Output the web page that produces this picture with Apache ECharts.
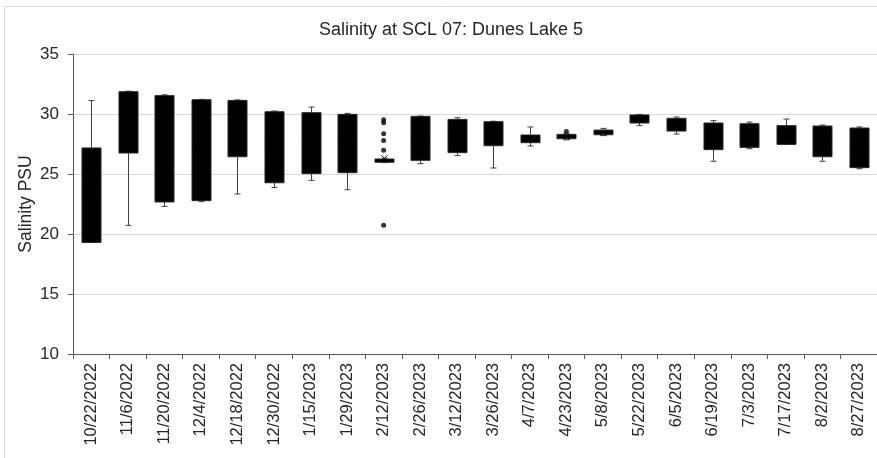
<!DOCTYPE html>
<html>
<head>
<meta charset="utf-8">
<script src="https://cdn.jsdelivr.net/npm/echarts@6/dist/echarts.min.js"></script>
<style>html,body{margin:0;padding:0;background:#fff}#c{width:877px;height:458px}</style>
</head>
<body>
<div id="c"></div>
<script>
var categories = ['10/22/2022','11/6/2022','11/20/2022','12/4/2022','12/18/2022','12/30/2022','1/15/2023','1/29/2023','2/12/2023','2/26/2023','3/12/2023','3/26/2023','4/7/2023','4/23/2023','5/8/2023','5/22/2023','6/5/2023','6/19/2023','7/3/2023','7/17/2023','8/2/2023','8/27/2023'];
var mins    = [19.3, 20.72, 22.3, 22.7, 23.33, 23.88, 24.47, 23.69, 25.95, 25.86, 26.53, 25.5, 27.33, 27.85, 28.2, 29.03, 28.33, 26.06, 27.11, 27.47, 26.06, 25.44];
var q1s     = [19.3, 26.75, 22.67, 22.78, 26.44, 24.27, 25.03, 25.11, 25.98, 26.14, 26.78, 27.36, 27.61, 27.94, 28.27, 29.25, 28.58, 27.03, 27.22, 27.47, 26.44, 25.53];
var medians = [23.5, 29.8, 27.5, 27.2, 29.0, 27.5, 27.8, 27.6, 26.1, 28.0, 28.2, 28.4, 27.9, 28.1, 28.45, 29.6, 29.1, 28.2, 28.2, 28.3, 27.7, 27.2];
var q3s     = [27.17, 31.86, 31.53, 31.19, 31.13, 30.19, 30.11, 29.97, 26.25, 29.8, 29.55, 29.36, 28.25, 28.3, 28.66, 29.92, 29.64, 29.25, 29.19, 29.03, 29.0, 28.83];
var maxs    = [31.13, 31.9, 31.6, 31.22, 31.18, 30.25, 30.58, 30.05, 26.3, 29.83, 29.69, 29.4, 28.92, 28.4, 28.8, 29.97, 29.75, 29.45, 29.33, 29.58, 29.08, 28.92];
var means   = [23.5, 29.5, 27.5, 27.0, 28.5, 27.5, 27.8, 27.5, 26.3, 28.0, 28.2, 28.3, 28.0, 28.1, 28.45, 29.6, 29.1, 28.2, 28.2, 28.3, 27.7, 27.2];
var outliers = [[8, 29.53], [8, 29.28], [8, 28.36], [8, 27.8], [8, 26.97], [8, 20.72], [13, 28.55]];
var yTicks = [10, 15, 20, 25, 30, 35];

var boxData = categories.map(function (c, i) {
  return [i, mins[i], q1s[i], medians[i], q3s[i], maxs[i], means[i]];
});

function renderBox(params, api) {
  var i = api.value(0);
  var w = api.size([1, 0])[0] * 0.52;
  var cap = 6;
  var pMin = api.coord([i, api.value(1)]);
  var pQ1 = api.coord([i, api.value(2)]);
  var pMed = api.coord([i, api.value(3)]);
  var pQ3 = api.coord([i, api.value(4)]);
  var pMax = api.coord([i, api.value(5)]);
  var pMean = api.coord([i, api.value(6)]);
  var x = Math.round(pQ1[0]) + 0.5;
  var lineStyle = { stroke: '#404040', lineWidth: 1 };
  var m = 3;
  return {
    type: 'group',
    children: [
      { type: 'line', shape: { x1: x, y1: pMax[1], x2: x, y2: pQ3[1] }, style: lineStyle },
      { type: 'line', shape: { x1: x, y1: pQ1[1], x2: x, y2: pMin[1] }, style: lineStyle },
      { type: 'line', shape: { x1: x - cap / 2, y1: pMax[1], x2: x + cap / 2, y2: pMax[1] }, style: lineStyle },
      { type: 'line', shape: { x1: x - cap / 2, y1: pMin[1], x2: x + cap / 2, y2: pMin[1] }, style: lineStyle },
      { type: 'rect', shape: { x: x - w / 2, y: pQ3[1], width: w, height: Math.max(pQ1[1] - pQ3[1], 2) },
        style: { fill: '#000', stroke: '#262626', lineWidth: 1 } },
      { type: 'line', shape: { x1: x - w / 2, y1: pMed[1], x2: x + w / 2, y2: pMed[1] }, style: { stroke: '#000', lineWidth: 1 } },
      { type: 'line', shape: { x1: x - m, y1: pMean[1] - m, x2: x + m, y2: pMean[1] + m }, style: { stroke: '#000', lineWidth: 1 } },
      { type: 'line', shape: { x1: x - m, y1: pMean[1] + m, x2: x + m, y2: pMean[1] - m }, style: { stroke: '#000', lineWidth: 1 } }
    ]
  };
}

var chart = echarts.init(document.getElementById('c'), null, { renderer: 'canvas' });
var font = 'Liberation Sans';
chart.setOption({
  animation: false,
  backgroundColor: '#fff',
  title: {
    text: 'Salinity at SCL 07: Dunes Lake 5',
    left: 446, top: 16, textAlign: 'center',
    textStyle: { fontFamily: font, fontSize: 18, fontWeight: 'normal', color: '#262626' }
  },
  graphic: [{
    type: 'rect', silent: true, z: -10,
    shape: { x: 4.5, y: 6.5, width: 890, height: 470 },
    style: { fill: 'none', stroke: '#d9d9d9', lineWidth: 1 }
  }],
  grid: { left: 73, top: 54, width: 807, height: 300, containLabel: false },
  xAxis: {
    type: 'category',
    data: categories,
    boundaryGap: true,
    axisLine: { lineStyle: { color: '#595959', width: 1 } },
    axisTick: { show: true, alignWithLabel: false, length: 5, lineStyle: { color: '#595959' } },
    axisLabel: { rotate: 90, interval: 0, margin: 9, fontFamily: font, fontSize: 16.5, color: '#262626' },
    splitLine: { show: false }
  },
  yAxis: {
    type: 'value',
    min: yTicks[0], max: yTicks[yTicks.length - 1], interval: 5,
    name: 'Salinity PSU', nameLocation: 'middle', nameGap: 38, nameMoveOverlap: false,
    nameTextStyle: { fontFamily: font, fontSize: 17.5, color: '#262626' },
    axisLine: { show: true, lineStyle: { color: '#595959', width: 1 } },
    axisTick: { show: true, length: 5, lineStyle: { color: '#595959' } },
    axisLabel: { fontFamily: font, fontSize: 17, color: '#262626', margin: 14 },
    splitLine: { lineStyle: { color: '#d9d9d9', width: 1 } }
  },
  series: [
    {
      type: 'custom',
      renderItem: renderBox,
      data: boxData,
      encode: { x: 0, y: [1, 2, 3, 4, 5] },
      z: 3
    },
    {
      type: 'scatter',
      data: outliers,
      symbol: 'circle',
      symbolSize: 5,
      itemStyle: { color: '#000' },
      z: 4
    }
  ]
});
</script>
</body>
</html>
